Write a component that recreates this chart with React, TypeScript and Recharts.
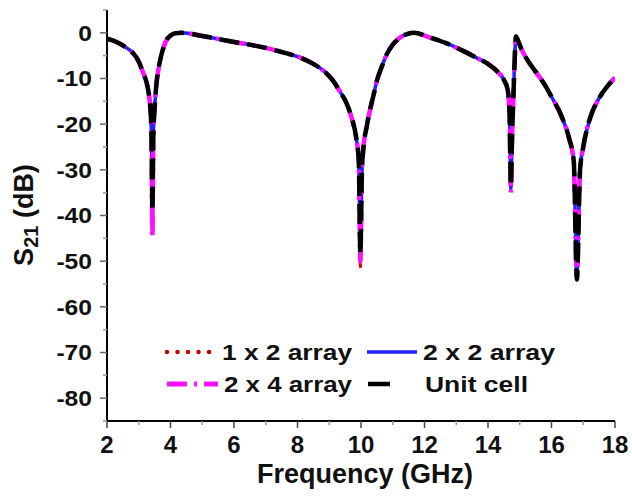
import React from 'react';
import { LineChart, Line, XAxis, YAxis } from 'recharts';

const FONT = '"Liberation Sans", Arial, Helvetica, sans-serif';

// Frequency grid (GHz)
const frequency = [
  2.0, 2.3, 2.6, 2.8, 3.0, 3.13, 3.25, 3.32, 3.37, 3.4,
  3.43, 3.46, 3.5, 3.56, 3.62, 3.7, 3.8, 3.9, 4.0, 4.15,
  4.35, 5.0, 6.0, 7.0, 7.5, 8.0, 8.5, 8.8, 9.1, 9.35,
  9.55, 9.7, 9.85, 9.93, 9.98, 10.03, 10.08, 10.18, 10.28, 10.4,
  10.5, 10.65, 10.82, 11.0, 11.2, 11.4, 11.65, 12.2, 12.8, 13.2,
  13.65, 14.0, 14.3, 14.5, 14.62, 14.68, 14.72, 14.76, 14.8, 14.84,
  14.88, 14.95, 15.05, 15.2, 15.5, 15.8, 16.0, 16.3, 16.55, 16.7,
  16.8, 16.9, 17.0, 17.2, 17.5, 17.75, 18.0,
];

// S21 (dB) per configuration
const unitCell = [
  -1.3, -2.0, -3.2, -4.3, -6.3, -8.6, -11, -13.5, -17, -22,
  -39, -22, -16.5, -11, -8, -5.2, -2.8, -1.3, -0.6, -0.1,
  0, -0.7, -2.0, -3.3, -4.2, -5.2, -6.8, -8.2, -10.3, -13,
  -15.5, -18.5, -23, -28, -48.5, -30, -25, -20.5, -17, -13.5,
  -10.5, -7.5, -4.6, -2.6, -1.2, -0.4, 0, -1.1, -2.6, -3.9,
  -5.5, -6.8, -8.5, -10.3, -12.5, -18, -33.5, -22, -14, -6,
  -0.8, -1.8, -3.5, -5.5, -8.5, -11.5, -14, -18, -23, -28,
  -54, -30, -25, -19, -14.3, -11.8, -9.8,
];

const array2x4 = [
  -1.3, -2.0, -3.2, -4.3, -6.3, -8.6, -11, -13.5, -17, -22,
  -45, -22, -16.5, -11, -8, -5.2, -2.8, -1.3, -0.6, -0.1,
  0, -0.7, -2.0, -3.3, -4.2, -5.2, -6.8, -8.2, -10.3, -13,
  -15.5, -18.5, -23, -28, -50, -30, -25, -20.5, -17, -13.5,
  -10.5, -7.5, -4.6, -2.6, -1.2, -0.4, 0, -1.1, -2.6, -3.9,
  -5.5, -6.8, -8.5, -10.3, -12.5, -18, -35, -22, -14, -6,
  -0.8, -1.8, -3.5, -5.5, -8.5, -11.5, -14, -18, -23, -28,
  -53, -30, -25, -19, -14.3, -11.8, -9.8,
];

const array2x2 = [
  -1.3, -2.0, -3.2, -4.3, -6.3, -8.6, -11, -13.5, -17, -22,
  -43, -22, -16.5, -11, -8, -5.2, -2.8, -1.3, -0.6, -0.1,
  0, -0.7, -2.0, -3.3, -4.2, -5.2, -6.8, -8.2, -10.3, -13,
  -15.5, -18.5, -23, -28, -49, -30, -25, -20.5, -17, -13.5,
  -10.5, -7.5, -4.6, -2.6, -1.2, -0.4, 0, -1.1, -2.6, -3.9,
  -5.5, -6.8, -8.5, -10.3, -12.5, -18, -34, -22, -14, -6,
  -0.8, -1.8, -3.5, -5.5, -8.5, -11.5, -14, -18, -23, -28,
  -53, -30, -25, -19, -14.3, -11.8, -9.8,
];

const array1x2 = [
  -1.3, -2.0, -3.2, -4.3, -6.3, -8.6, -11, -13.5, -17, -22,
  -44, -22, -16.5, -11, -8, -5.2, -2.8, -1.3, -0.6, -0.1,
  0, -0.7, -2.0, -3.3, -4.2, -5.2, -6.8, -8.2, -10.3, -13,
  -15.5, -18.5, -23, -28, -51.7, -30, -25, -20.5, -17, -13.5,
  -10.5, -7.5, -4.6, -2.6, -1.2, -0.4, 0, -1.1, -2.6, -3.9,
  -5.5, -6.8, -8.5, -10.3, -12.5, -18, -34.5, -22, -14, -6,
  -0.8, -1.8, -3.5, -5.5, -8.5, -11.5, -14, -18, -23, -28,
  -53.5, -30, -25, -19, -14.3, -11.8, -9.8,
];

const xTicks = [2, 3, 4, 5, 6, 7, 8, 9, 10, 11, 12, 13, 14, 15, 16, 17, 18];
const yTicks = [-85, -80, -75, -70, -65, -60, -55, -50, -45, -40, -35, -30, -25, -20, -15, -10, -5, 0, 5];

const seriesNames = ['1 x 2 array', '2 x 2 array', '2 x 4 array', 'Unit cell'];

const data = frequency.map((f, i) => ({
  f,
  a12: array1x2[i],
  a22: array2x2[i],
  a24: array2x4[i],
  unit: unitCell[i],
}));

const XTick = (props: any) => {
  const { x, y, payload } = props;
  const v = payload.value;
  const major = v % 2 === 0;
  return (
    <g>
      <line x1={x} x2={x} y1={y} y2={y + (major ? 7 : 4)} stroke={major ? '#444' : '#999'} strokeWidth={1.5} />
      {major && (
        <text x={x} y={y + 32} textAnchor="middle" fontSize={24} fontWeight="bold" fontFamily={FONT} fill="#111">
          {v}
        </text>
      )}
    </g>
  );
};

const YTick = (props: any) => {
  const { x, y, payload } = props;
  const v = payload.value;
  const major = v % 10 === 0;
  return (
    <g>
      <line x1={x - (major ? 7 : 4)} x2={x} y1={y} y2={y} stroke={major ? '#666' : '#999'} strokeWidth={1.5} />
      {major && (
        <text
          transform={`translate(${x - 15},${y}) scale(1.12,1)`}
          dy="0.36em"
          textAnchor="end"
          fontSize={22}
          fontWeight="bold"
          fontFamily={FONT}
          fill="#111"
        >
          {v}
        </text>
      )}
    </g>
  );
};

const W = 632;
const H = 498;

export default function App() {
  return (
    <div style={{ position: 'relative', width: W, height: H, background: '#fff' }}>
      <style>{'body{margin:0}'}</style>
      <LineChart width={W} height={H} data={data} margin={{ top: 10, right: 17, left: 8, bottom: 8 }}>
        <XAxis
          dataKey="f"
          type="number"
          domain={[2, 18]}
          ticks={xTicks}
          interval={0}
          allowDataOverflow
          height={69}
          tickSize={0}
          tickMargin={0}
          tickLine={false}
          tick={<XTick />}
          axisLine={{ stroke: '#000', strokeWidth: 2 }}
        />
        <YAxis
          type="number"
          domain={[-85, 5]}
          ticks={yTicks}
          interval={0}
          allowDataOverflow
          width={99}
          tickSize={0}
          tickMargin={0}
          tickLine={false}
          tick={<YTick />}
          axisLine={{ stroke: '#000', strokeWidth: 2 }}
        />
        <Line dataKey="a12" name={seriesNames[0]} type="monotone" stroke="#d00000" strokeWidth={3} strokeDasharray="3 5" dot={false} isAnimationActive={false} />
        <Line dataKey="a22" name={seriesNames[1]} type="monotone" stroke="#2222ff" strokeWidth={3.5} dot={false} isAnimationActive={false} />
        <Line dataKey="a24" name={seriesNames[2]} type="monotone" stroke="#ff10ff" strokeWidth={4.5} strokeDasharray="20 7 3 7" dot={false} isAnimationActive={false} />
        <Line dataKey="unit" name={seriesNames[3]} type="monotone" stroke="#000" strokeWidth={4.5} strokeDasharray="20 8" dot={false} isAnimationActive={false} />
      </LineChart>
      <svg width={W} height={H} style={{ position: 'absolute', left: 0, top: 0, pointerEvents: 'none' }}>
        <text x={365} y={483} textAnchor="middle" fontSize={27} fontWeight="bold" fontFamily={FONT} fill="#111">
          Frequency (GHz)
        </text>
        <text x={33} y={215} transform="rotate(-90, 33, 215)" textAnchor="middle" fontSize={27} fontWeight="bold" fontFamily={FONT} fill="#111">
          S<tspan dy={5} fontSize={20}>21</tspan><tspan dy={-5}> (dB)</tspan>
        </text>
        {/* legend */}
        <line x1={167} x2={211} y1={352} y2={352} stroke="#cc0000" strokeWidth={4.5} strokeDasharray="0 10.5" strokeLinecap="round" />
        <text x={222} y={360} fontSize={22} fontWeight="bold" fontFamily={FONT} fill="#111" textLength={130} lengthAdjust="spacingAndGlyphs">
          {seriesNames[0]}
        </text>
        <line x1={367} x2={417} y1={352} y2={352} stroke="#2222ff" strokeWidth={3.5} />
        <text x={423} y={360} fontSize={22} fontWeight="bold" fontFamily={FONT} fill="#111" textLength={132} lengthAdjust="spacingAndGlyphs">
          {seriesNames[1]}
        </text>
        <line x1={167} x2={218} y1={384} y2={384} stroke="#ff10ff" strokeWidth={5} strokeDasharray="20 7 3 7" />
        <text x={224} y={392} fontSize={22} fontWeight="bold" fontFamily={FONT} fill="#111" textLength={128} lengthAdjust="spacingAndGlyphs">
          {seriesNames[2]}
        </text>
        <line x1={368} x2={390} y1={384} y2={384} stroke="#000" strokeWidth={4.5} />
        <text x={425} y={392} fontSize={22} fontWeight="bold" fontFamily={FONT} fill="#111" textLength={103} lengthAdjust="spacingAndGlyphs">
          {seriesNames[3]}
        </text>
      </svg>
    </div>
  );
}
